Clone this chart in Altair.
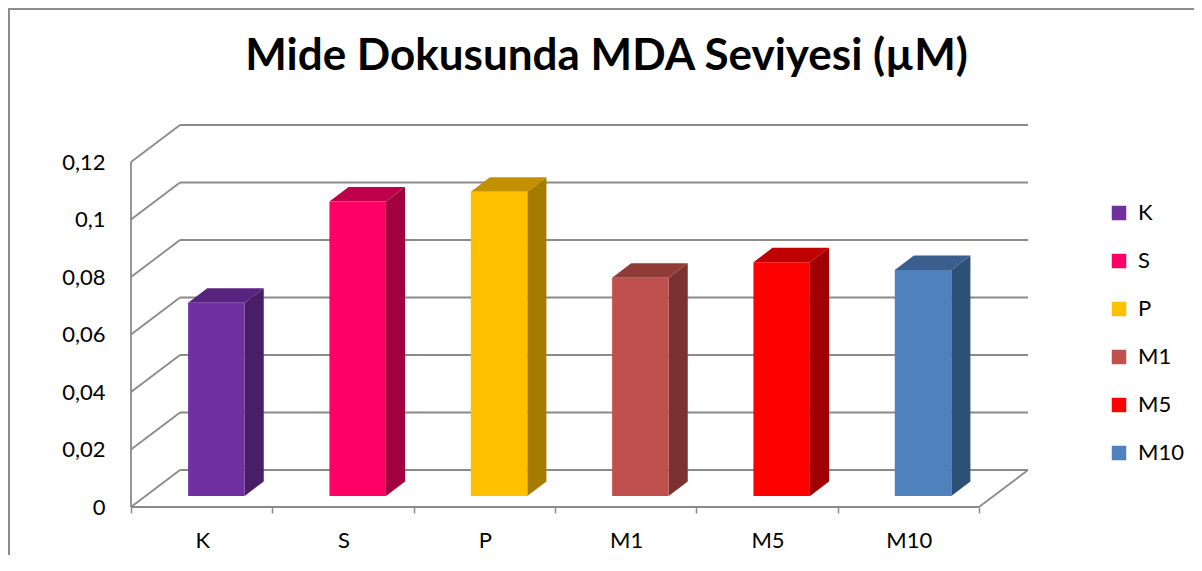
import altair as alt
import pandas as pd

# ---------------- data ----------------
categories = ["K", "S", "P", "M1", "M5", "M10"]
values = [0.0672, 0.1024, 0.1058, 0.0759, 0.0813, 0.0786]
front_colors = ["#7030A0", "#FF0066", "#FFC000", "#C0504D", "#FF0000", "#4F81BD"]
side_colors = ["#4A1E66", "#A3003F", "#A67C00", "#7B3130", "#A00000", "#2F5077"]
top_colors = ["#56247F", "#BE004B", "#C29000", "#913B39", "#BF0000", "#3A5F8E"]
y_ticks = [0, 0.02, 0.04, 0.06, 0.08, 0.1, 0.12]
title_text = "Mide Dokusunda MDA Seviyesi (µM)"

# ---------------- 3D geometry (styling) ----------------
DX = 0.3467    # depth offset, in category units
DY = 0.01287   # depth offset, in value units
F1, F2 = 0.30, 0.69   # front / back depth of bars
HALF_W = 0.2
N = len(categories)
GRID = "#8A8A8A"
FONT = "Lato"

xs = alt.Scale(domain=[0, N + DX], nice=False, zero=False)
ys = alt.Scale(domain=[0, max(y_ticks) + DY], nice=False, zero=False)

front_rows, side_rows, top_rows = [], [], []
for i, (c, v) in enumerate(zip(categories, values)):
    xl1 = i + 0.5 - HALF_W + F1 * DX
    xr1 = i + 0.5 + HALF_W + F1 * DX
    sx = (F2 - F1) * DX
    front_rows.append(dict(cat=c, x=xl1, x2=xr1, y=F1 * DY, y2=v + F1 * DY))
    side_rows.append(dict(cat=c, col=side_colors[i], x=xr1, y=F1 * DY, y2=v + F1 * DY))
    side_rows.append(dict(cat=c, col=side_colors[i], x=xr1 + sx, y=F2 * DY, y2=v + F2 * DY))
    top_rows.append(dict(cat=c, col=top_colors[i], y=v + F1 * DY, x=xl1, x2=xr1))
    top_rows.append(dict(cat=c, col=top_colors[i], y=v + F2 * DY, x=xl1 + sx, x2=xr1 + sx))
front_df = pd.DataFrame(front_rows)
side_df = pd.DataFrame(side_rows)
top_df = pd.DataFrame(top_rows)

grid_rows = []
for t in y_ticks:
    grid_rows.append(dict(x=DX, x2=N + DX, y=t + DY, y2=t + DY))   # back wall
    grid_rows.append(dict(x=0, x2=DX, y=t, y2=t + DY))             # side wall
grid_rows.append(dict(x=0, x2=0, y=0, y2=max(y_ticks)))            # front vertical axis
grid_rows.append(dict(x=0, x2=N, y=0, y2=0))                       # floor front edge
grid_rows.append(dict(x=N, x2=N + DX, y=0, y2=DY))                 # floor right edge
grid_df = pd.DataFrame(grid_rows)

label_df = pd.DataFrame(dict(cat=categories, x=[i + 0.5 for i in range(N)], y=[0] * N))

x_axis = alt.Axis(values=list(range(N + 1)), labels=False, domain=False, grid=False,
                  ticks=True, tickSize=6, tickColor=GRID, tickWidth=1.5, title=None)
y_axis = alt.Axis(values=y_ticks, labelExpr="replace(toString(datum.value), '.', ',')",
                  ticks=False, domain=False, grid=False, labelPadding=26,
                  labelFontSize=22, labelFont=FONT, labelColor="black",
                  labelFlush=False, title=None)


def X(field):
    return alt.X(field, scale=xs, axis=x_axis)


def Y(field):
    return alt.Y(field, scale=ys, axis=y_axis)


grid = alt.Chart(grid_df).mark_rule(color=GRID, strokeWidth=1.8).encode(
    x=X("x:Q"), x2="x2:Q", y=Y("y:Q"), y2="y2:Q",
)

front = alt.Chart(front_df).mark_rect().encode(
    x=X("x:Q"), x2="x2:Q", y=Y("y:Q"), y2="y2:Q",
    color=alt.Color("cat:N", scale=alt.Scale(domain=categories, range=front_colors),
                    legend=alt.Legend(orient="none", legendX=977, legendY=77,
                                      direction="vertical", title=None,
                                      symbolType="square", symbolSize=210,
                                      symbolStrokeWidth=0, labelFontSize=22,
                                      labelFont=FONT, labelColor="black",
                                      rowPadding=26, labelOffset=8, padding=0)),
)

side = alt.Chart(side_df).mark_area(opacity=1).encode(
    x=X("x:Q"), y=Y("y:Q"), y2="y2:Q",
    detail="cat:N",
    color=alt.Color("col:N", scale=None),
)

top = alt.Chart(top_df).mark_area(orient="horizontal", opacity=1).encode(
    y=Y("y:Q"), x=X("x:Q"), x2="x2:Q",
    detail="cat:N",
    color=alt.Color("col:N", scale=None),
)

xlabels = alt.Chart(label_df).mark_text(font=FONT, fontSize=22, color="black",
                                        baseline="middle", dy=34, dx=1).encode(
    x=X("x:Q"), y=Y("y:Q"), text="cat:N",
)

frame = alt.Chart(pd.DataFrame({"k": [0]})).mark_rect(
    filled=False, stroke="#8C8C8C", strokeWidth=2).encode(
    x=alt.value(-122), y=alt.value(-116), x2=alt.value(1200), y2=alt.value(700),
)

chart = alt.layer(grid, side, top, front, xlabels, frame).properties(
    width=897, height=382,
    autosize=alt.AutoSizeParams(type="none"),
    padding={"left": 123, "top": 117, "right": 166, "bottom": 48},
    title=alt.TitleParams(text=title_text, font=FONT, fontSize=44, fontWeight="bold",
                          color="black", anchor="middle", dx=27, offset=-71,
                          frame="group"),
    background="white",
).configure_view(stroke=None)

chart.save("out.html", embed_options={"renderer": "svg", "actions": False})
